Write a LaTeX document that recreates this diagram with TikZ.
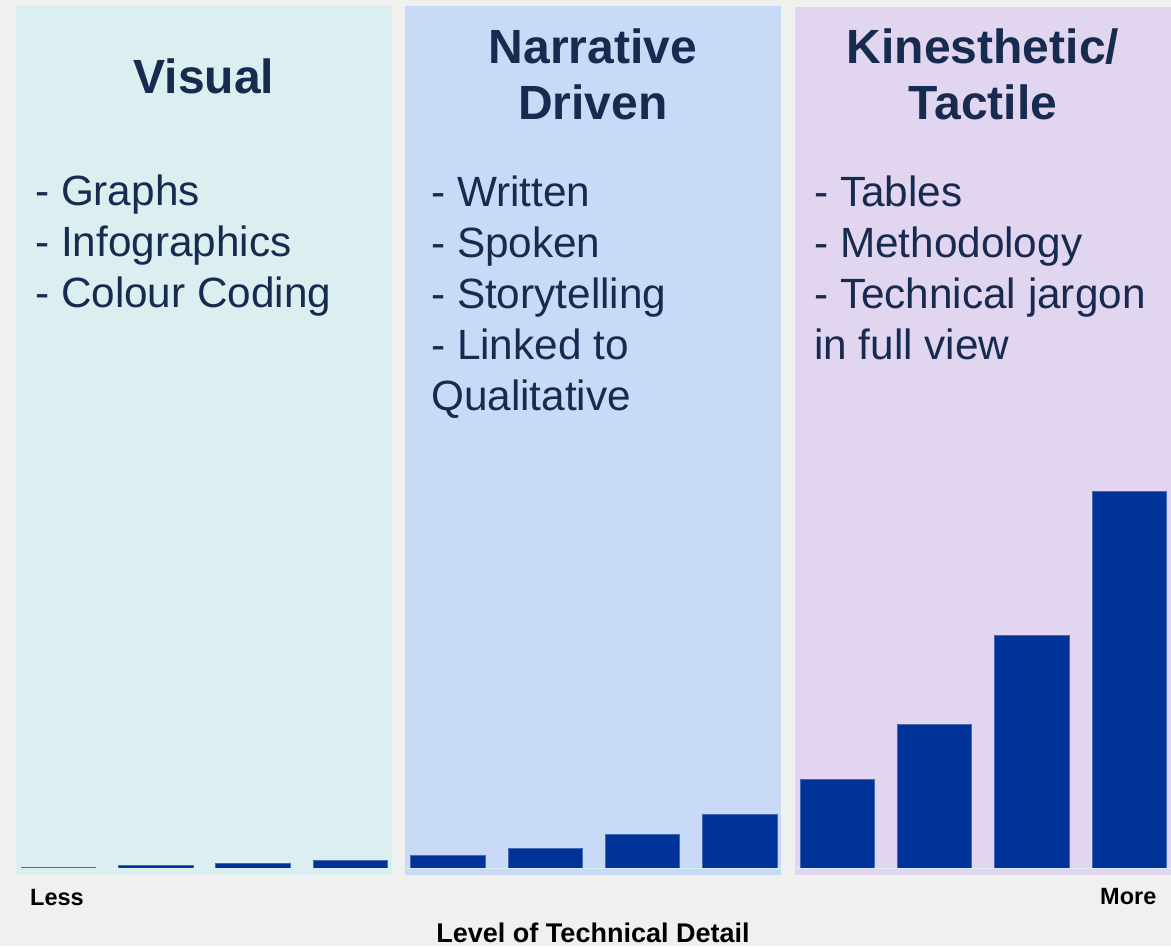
\documentclass[tikz,border=0pt]{standalone}
\usepackage{fontspec}
\setmainfont{Liberation Sans}
\definecolor{bgc}{RGB}{240,241,238}
\definecolor{pone}{RGB}{219,238,240}
\definecolor{ptwo}{RGB}{201,218,247}
\definecolor{pthree}{RGB}{226,213,240}
\definecolor{navy}{RGB}{23,42,79}
\definecolor{barc}{RGB}{0,51,153}
\definecolor{baredge}{RGB}{70,105,180}
\definecolor{axisc}{RGB}{218,240,246}
\tikzset{
  title/.style={anchor=base, inner sep=0pt, text=navy, font=\fontsize{48}{56}\selectfont\bfseries},
  item/.style={anchor=base west, inner sep=0pt, text=navy, font=\fontsize{42.3}{51}\selectfont},
  endlabel/.style={anchor=base west, inner sep=0pt, text=black, font=\fontsize{23.5}{27}\selectfont\bfseries},
  bar/.style={fill=barc, draw=baredge, line width=0.6pt},
}
\begin{document}
\begin{tikzpicture}[x=1pt,y=-1pt]
\fill[bgc] (0,0) rectangle (1171,946);
\useasboundingbox (0,0) rectangle (1171,946);
% panels
\fill[pone] (16,5) rectangle (392,875);
\fill[ptwo] (405,6) rectangle (781,875);
\fill[pthree] (795,7) rectangle (1171,875);
% bars
\foreach \i/\t in {0/867,1/865.7,2/863.7,3/860,4/855,5/848,6/834,7/814,8/779,9/724,10/635,11/491}{
  \draw[bar] ({21+97.36*\i},868) rectangle ({95.5+97.36*\i},\t);
}
\draw[axisc, line width=1.5pt] (9,868.5) -- (1171,868.5);
% titles
\node[title] (t1) at (204,93) {Visual};
\node[title] (t2a) at (593,63) {Narrative};
\node[title] (t2b) at (593,119) {Driven};
\node[title] (t3a) at (983,63) {Kinesthetic/};
\node[title] (t3b) at (983,119) {Tactile};
% panel 1 items
\node[item] (a1) at (35,205) {- Graphs};
\node[item] (a2) at (35,256) {- Infographics};
\node[item] (a3) at (35,307) {- Colour Coding};
% panel 2 items
\node[item] (b1) at (431,206) {- Written};
\node[item] (b2) at (431,257) {- Spoken};
\node[item] (b3) at (431,308) {- Storytelling};
\node[item] (b4) at (431,359) {- Linked to};
\node[item] (b5) at (431,410) {Qualitative};
% panel 3 items
\node[item] (c1) at (814,206) {- Tables};
\node[item] (c2) at (814,257) {- Methodology};
\node[item] (c3) at (814,308) {- Technical jargon};
\node[item] (c4) at (814,359) {in full view};
% axis labels
\node[endlabel] (less) at (30,905) {Less};
\node[endlabel] (more) at (1100,904) {More};
\node[anchor=base, inner sep=0pt, font=\fontsize{27}{30}\selectfont\bfseries] (axis) at (593,942) {Level of Technical Detail};
\end{tikzpicture}
\end{document}
